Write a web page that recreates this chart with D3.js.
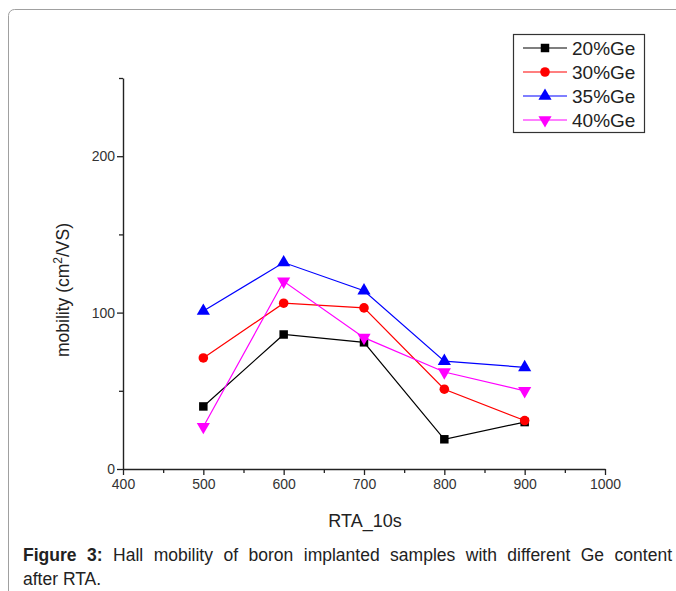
<!DOCTYPE html>
<html>
<head>
<meta charset="utf-8">
<script src="https://cdn.jsdelivr.net/npm/d3@7/dist/d3.min.js"></script>
<style>
  body { margin: 0; background: #fff; }
  svg { display: block; font-family: Arial, "Liberation Sans", sans-serif; }
</style>
</head>
<body>
<div id="chart"></div>
<script>
// --------------------
// DATA
// --------------------
const rta = [500, 600, 700, 800, 900];
const ge20 = [40, 86, 81, 19, 30];
const ge30 = [71, 106, 103, 51, 31];
const ge35 = [101, 132, 114, 69, 65];
const ge40 = [27, 120, 84, 62, 50];
const seriesNames = ["20%Ge", "30%Ge", "35%Ge", "40%Ge"];
const xTicks = [400, 500, 600, 700, 800, 900, 1000];
const yTicks = [0, 100, 200];

const series = [
  { name: seriesNames[0], values: ge20, color: "#000000", symbol: "square" },
  { name: seriesNames[1], values: ge30, color: "#ff0000", symbol: "circle" },
  { name: seriesNames[2], values: ge35, color: "#0000ff", symbol: "up" },
  { name: seriesNames[3], values: ge40, color: "#ff00ff", symbol: "down" }
];

// --------------------
// CHART
// --------------------
const width = 676;
const height = 591;

const svg = d3.select("#chart")
  .append("svg")
  .attr("width", width)
  .attr("height", height);

// outer frame
svg.append("rect")
  .attr("x", 8.5)
  .attr("y", 9.5)
  .attr("width", 720)
  .attr("height", 700)
  .attr("rx", 6)
  .attr("fill", "none")
  .attr("stroke", "#a0a0a0");

const x = d3.scaleLinear()
  .domain([400, 1000])
  .range([123, 605]);

const y = d3.scaleLinear()
  .domain([0, 250])
  .range([469, 78]);

// Axes
const xAxis = svg.append("g")
  .attr("transform", `translate(0,${y(0)})`)
  .call(d3.axisBottom(x)
    .tickValues(d3.range(400, 1001, 50))
    .tickFormat(d => xTicks.includes(d) ? d : "")
    .tickSize(5)
    .tickSizeOuter(0));

xAxis.selectAll(".tick line")
  .attr("y2", d => xTicks.includes(d) ? 6 : 4);

const yAxis = svg.append("g")
  .attr("transform", `translate(${x(400)},0)`)
  .call(d3.axisLeft(y)
    .tickValues(d3.range(0, 251, 50))
    .tickFormat(d => yTicks.includes(d) ? d : "")
    .tickSize(5)
    .tickSizeOuter(0));

yAxis.selectAll(".tick line")
  .attr("x2", d => yTicks.includes(d) ? -6 : -4);

svg.selectAll(".domain")
  .attr("stroke", "#222")
  .attr("stroke-width", 1.4);
svg.selectAll(".tick line")
  .attr("stroke", "#222")
  .attr("stroke-width", 1.3);
svg.selectAll(".tick text")
  .attr("fill", "#333")
  .style("font-size", "14px");
xAxis.selectAll(".tick text").attr("dy", "0.85em");

// Axis titles
svg.append("text")
  .attr("x", 365)
  .attr("y", 527)
  .attr("text-anchor", "middle")
  .attr("fill", "#222")
  .style("font-size", "18px")
  .text("RTA_10s");

const yTitle = svg.append("text")
  .attr("transform", "translate(69,290) rotate(-90)")
  .attr("text-anchor", "middle")
  .attr("fill", "#222")
  .style("font-size", "17.5px");
yTitle.append("tspan").text("mobility (cm");
yTitle.append("tspan").attr("dy", -7).style("font-size", "12px").text("2");
yTitle.append("tspan").attr("dy", 7).text("/VS)");

// --------------------
// SERIES
// --------------------
const symbolFor = {
  square: d3.symbol().type(d3.symbolSquare).size(72),
  circle: d3.symbol().type(d3.symbolCircle).size(72),
  up: d3.symbol().type(d3.symbolTriangle).size(75),
  down: d3.symbol().type(d3.symbolTriangle).size(75)
};

const line = d3.line()
  .x((d, i) => x(rta[i]))
  .y(d => y(d));

series.forEach(s => {
  svg.append("path")
    .datum(s.values)
    .attr("fill", "none")
    .attr("stroke", s.color)
    .attr("stroke-width", 1.2)
    .attr("d", line);

  svg.selectAll(null)
    .data(s.values)
    .join("path")
    .attr("transform", (d, i) =>
      `translate(${x(rta[i])},${y(d)})` + (s.symbol === "down" ? " rotate(180)" : ""))
    .attr("d", symbolFor[s.symbol])
    .attr("fill", s.color);
});

// --------------------
// LEGEND
// --------------------
const legend = svg.append("g");

legend.append("rect")
  .attr("x", 513.5)
  .attr("y", 34.5)
  .attr("width", 131)
  .attr("height", 98)
  .attr("fill", "#fff")
  .attr("stroke", "#333")
  .attr("stroke-width", 1.2);

series.forEach((s, i) => {
  const ly = 48 + i * 24;
  legend.append("line")
    .attr("x1", 523).attr("x2", 567)
    .attr("y1", ly).attr("y2", ly)
    .attr("stroke", s.color)
    .attr("stroke-width", 1.2);
  legend.append("path")
    .attr("transform", `translate(545,${ly})` + (s.symbol === "down" ? " rotate(180)" : ""))
    .attr("d", symbolFor[s.symbol])
    .attr("fill", s.color);
  legend.append("text")
    .attr("x", 572)
    .attr("y", ly + 7)
    .attr("fill", "#222")
    .style("font-size", "19px")
    .text(s.name);
});

// --------------------
// CAPTION
// --------------------
const cap = svg.append("text")
  .attr("x", 23)
  .attr("y", 561)
  .attr("fill", "#222")
  .style("font-size", "17.5px");
cap.append("tspan").style("font-weight", "bold").text("Figure 3:");
cap.append("tspan").text(" Hall mobility of boron implanted samples with different Ge content");

// fit the first caption line exactly to the right edge
const capWidth = 649;
const natural = cap.node().getComputedTextLength();
if (natural < capWidth) {
  cap.style("word-spacing", `${(capWidth - natural) / 11}px`);
} else {
  cap.attr("textLength", capWidth).attr("lengthAdjust", "spacingAndGlyphs");
}

svg.append("text")
  .attr("x", 23)
  .attr("y", 585)
  .attr("fill", "#222")
  .style("font-size", "17.5px")
  .text("after RTA.");
</script>
</body>
</html>
